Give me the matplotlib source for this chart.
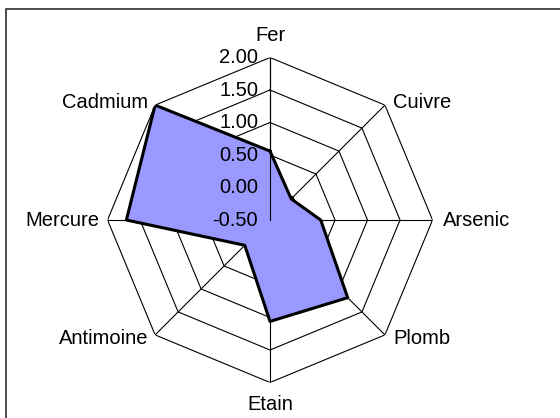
#!/usr/bin/env python3

# radar chart of metal concentrations

import matplotlib.pyplot as plt
import matplotlib.patches as patches
import numpy as np

plt.rcParams['font.family'] = ['Liberation Sans', 'DejaVu Sans']

metaux = ['Fer', 'Cuivre', 'Arsenic', 'Plomb', 'Etain', 'Antimoine', 'Mercure', 'Cadmium']
valeurs = [0.56, -0.04, 0.28, 1.19, 1.06, 0.05, 1.71, 2.00]
anneaux = [-0.50, 0.00, 0.50, 1.00, 1.50, 2.00]
etiquettes = ['-0.50', '0.00', '0.50', '1.00', '1.50', '2.00']

n = len(metaux)
theta = np.arange(n) * 2 * np.pi / n
theta_ferme = np.append(theta, theta[0])

fig = plt.figure(figsize=(5.6, 4.18), dpi=100)
ax = fig.add_axes([0.192, 0.0849, 0.5804, 0.7775], projection='polar')
ax.set_theta_offset(np.pi / 2)
ax.set_theta_direction(-1)
ax.set_ylim(anneaux[0], anneaux[-1])
ax.grid(False)
ax.spines['polar'].set_visible(False)
ax.set_xticks([])
ax.set_yticks([])
ax.patch.set_alpha(0)

# octagonal rings
for r in anneaux[1:]:
    ax.plot(theta_ferme, [r] * (n + 1), color='black', lw=0.8, zorder=1)
# spokes
for t in theta:
    ax.plot([t, t], [anneaux[0], anneaux[-1]], color='black', lw=0.8, zorder=1)

v = np.append(valeurs, valeurs[0])
ax.fill(theta_ferme, v, color='#9999ff', zorder=2)
ax.plot(theta_ferme, v, color='black', lw=2.2, zorder=3)
ax.plot([0, 0], [anneaux[0], anneaux[-1]], color='black', lw=0.8, zorder=3)

# radial tick labels
for r, lab in zip(anneaux, etiquettes):
    ax.annotate(lab, xy=(0, r), xytext=(-12, 0), textcoords='offset pixels',
                ha='right', va='center', fontsize=14.5, zorder=4)

# category labels
decal = [(0, 22, 'center'), (8, 3, 'left'), (10, 0, 'left'), (8, -4, 'left'),
         (0, -22, 'center'), (-7, -4, 'right'), (-8, 0, 'right'), (-7, 3, 'right')]
for t, nom, (dx, dy, ha) in zip(theta, metaux, decal):
    ax.annotate(nom, xy=(t, anneaux[-1]), xytext=(dx, dy), textcoords='offset pixels',
                ha=ha, va='center', fontsize=14.5, annotation_clip=False)

cadre = patches.Rectangle((6 / 560, -0.05), 1.2, 0.05 + (418 - 9) / 418,
                          transform=fig.transFigure, fill=False,
                          edgecolor='#404040', lw=1.3)
fig.patches.append(cadre)

fig.savefig('out.png', dpi=100)
